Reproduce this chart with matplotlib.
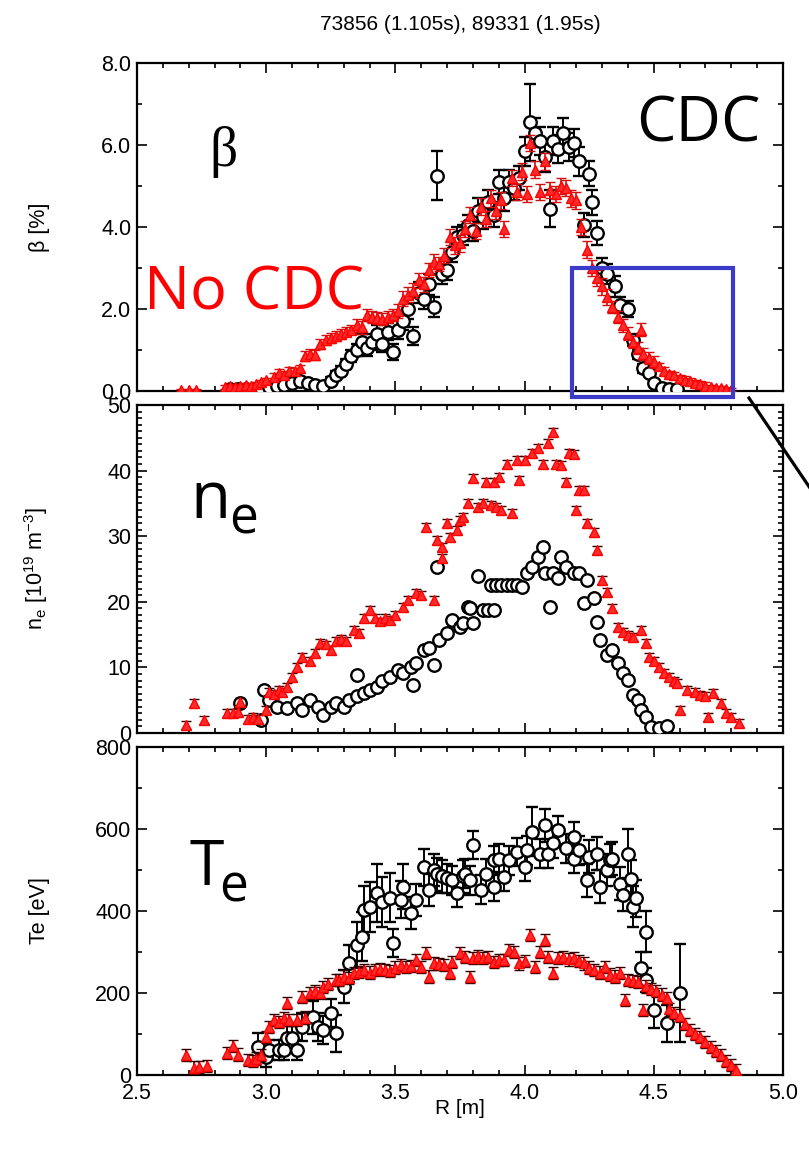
import matplotlib
matplotlib.use("Agg")
import matplotlib.pyplot as plt
from matplotlib.lines import Line2D
from matplotlib.patches import Rectangle
from matplotlib.ticker import MultipleLocator, FormatStrFormatter

plt.rcParams['font.family'] = ['Liberation Sans', 'DejaVu Sans']
plt.rcParams['mathtext.fontset'] = 'custom'
plt.rcParams['mathtext.rm'] = 'Liberation Sans'
plt.rcParams['mathtext.it'] = 'Liberation Sans:italic'

# ---- beta [%] ----
# CDC shot (black circles)
r_beta_cdc = [2.86, 2.89, 2.92, 2.95, 2.98, 3.01, 3.04, 3.07, 3.10, 3.13,
              3.16, 3.19, 3.22, 3.25, 3.27, 3.29, 3.31, 3.33, 3.35, 3.37,
              3.39, 3.41, 3.43, 3.45, 3.47, 3.49, 3.51, 3.53, 3.55, 3.57,
              3.59, 3.61, 3.63, 3.65, 3.66, 3.68, 3.70, 3.72, 3.74, 3.76,
              3.78, 3.80, 3.82, 3.84, 3.86, 3.88, 3.90, 3.92, 3.94, 3.96,
              3.98, 4.00, 4.02, 4.04, 4.06, 4.08, 4.10, 4.11, 4.13, 4.15,
              4.17, 4.19, 4.21, 4.23, 4.25, 4.26, 4.28, 4.30, 4.32, 4.35,
              4.37, 4.40, 4.42, 4.44, 4.46, 4.48, 4.50, 4.53, 4.56, 4.59]
beta_cdc = [0.05, 0.05, 0.05, 0.05, 0.08, 0.10, 0.12, 0.15, 0.20, 0.25,
            0.20, 0.15, 0.12, 0.25, 0.40, 0.50, 0.65, 0.85, 1.00, 1.20,
            1.05, 1.20, 1.40, 1.15, 1.45, 0.95, 1.50, 1.70, 2.00, 1.35,
            2.40, 2.25, 2.60, 2.05, 5.25, 2.85, 2.95, 3.40, 3.75, 3.80,
            4.05, 3.90, 4.40, 4.25, 4.60, 4.30, 5.10, 4.70, 5.10, 4.95,
            5.20, 5.85, 6.55, 6.30, 6.10, 5.70, 4.45, 6.10, 5.90, 6.30,
            5.95, 6.05, 5.60, 4.05, 5.30, 4.60, 3.85, 3.00, 2.85, 2.55,
            2.10, 2.00, 1.25, 0.90, 0.55, 0.45, 0.20, 0.08, 0.05, 0.05]
beta_cdc_err = [0.05, 0.05, 0.05, 0.05, 0.05, 0.05, 0.05, 0.08, 0.08, 0.08,
                0.08, 0.08, 0.08, 0.10, 0.10, 0.12, 0.12, 0.15, 0.15, 0.20,
                0.20, 0.20, 0.20, 0.20, 0.20, 0.20, 0.22, 0.22, 0.25, 0.22,
                0.25, 0.25, 0.25, 0.25, 0.60, 0.25, 0.25, 0.25, 0.25, 0.25,
                0.25, 0.25, 0.30, 0.30, 0.30, 0.30, 0.30, 0.30, 0.30, 0.30,
                0.30, 0.35, 0.95, 0.35, 0.35, 0.35, 0.45, 0.35, 0.35, 0.35,
                0.35, 0.35, 0.35, 0.30, 0.30, 0.30, 0.30, 0.25, 0.25, 0.25,
                0.20, 0.20, 0.15, 0.12, 0.10, 0.08, 0.05, 0.05, 0.05, 0.05]

# No CDC shot (red triangles)
r_beta_nocdc = [2.67, 2.70, 2.73, 2.84, 2.86, 2.88, 2.90, 2.92, 2.94, 2.96,
                2.98, 3.00, 3.03, 3.05, 3.07, 3.09, 3.11, 3.13, 3.15, 3.17,
                3.19, 3.21, 3.23, 3.25, 3.27, 3.29, 3.31, 3.33, 3.35, 3.37,
                3.39, 3.41, 3.43, 3.45, 3.47, 3.49, 3.51, 3.53, 3.55, 3.57,
                3.59, 3.61, 3.63, 3.65, 3.67, 3.69, 3.71, 3.73, 3.75, 3.77,
                3.79, 3.81, 3.83, 3.85, 3.87, 3.89, 3.91, 3.92, 3.95, 3.97,
                3.99, 4.01, 4.02, 4.04, 4.06, 4.08, 4.10, 4.12, 4.14, 4.16,
                4.18, 4.20, 4.22, 4.24, 4.26, 4.28, 4.30, 4.32, 4.34, 4.36,
                4.38, 4.40, 4.42, 4.44, 4.45, 4.46, 4.48, 4.50, 4.52, 4.54,
                4.56, 4.58, 4.60, 4.62, 4.64, 4.66, 4.68, 4.70, 4.72, 4.74,
                4.76, 4.78, 4.80]
beta_nocdc = [0.02, 0.02, 0.02, 0.10, 0.12, 0.10, 0.12, 0.15, 0.12, 0.18,
              0.22, 0.27, 0.35, 0.45, 0.40, 0.50, 0.48, 0.55, 0.85, 0.90,
              0.88, 1.15, 1.25, 1.30, 1.35, 1.40, 1.45, 1.50, 1.60, 1.55,
              1.85, 1.80, 1.78, 1.75, 1.80, 1.85, 1.95, 2.25, 2.35, 2.45,
              2.70, 2.60, 2.95, 3.15, 3.10, 3.30, 3.75, 3.55, 3.60, 3.95,
              4.30, 3.90, 4.50, 4.20, 4.70, 4.40, 4.65, 3.95, 5.20, 4.85,
              5.35, 4.80, 6.05, 5.40, 4.85, 5.60, 4.90, 4.80, 5.00, 4.95,
              4.70, 4.65, 4.00, 3.45, 3.00, 2.75, 2.55, 2.30, 2.05, 1.80,
              1.60, 1.40, 1.20, 1.05, 1.50, 0.90, 0.80, 0.70, 0.60, 0.50,
              0.42, 0.38, 0.32, 0.28, 0.24, 0.20, 0.16, 0.13, 0.10, 0.08,
              0.07, 0.05, 0.03]
beta_nocdc_err = [0.03, 0.03, 0.03, 0.05, 0.05, 0.05, 0.05, 0.05, 0.05, 0.05,
                  0.05, 0.05, 0.08, 0.08, 0.08, 0.08, 0.08, 0.08, 0.12, 0.12,
                  0.12, 0.12, 0.12, 0.12, 0.12, 0.12, 0.12, 0.12, 0.15, 0.15,
                  0.15, 0.15, 0.15, 0.15, 0.15, 0.15, 0.18, 0.18, 0.18, 0.18,
                  0.18, 0.18, 0.18, 0.18, 0.18, 0.18, 0.20, 0.20, 0.20, 0.20,
                  0.20, 0.20, 0.20, 0.20, 0.20, 0.20, 0.20, 0.20, 0.20, 0.20,
                  0.20, 0.20, 0.20, 0.20, 0.20, 0.20, 0.20, 0.20, 0.20, 0.20,
                  0.20, 0.20, 0.20, 0.20, 0.20, 0.20, 0.20, 0.20, 0.15, 0.15,
                  0.15, 0.15, 0.15, 0.15, 0.15, 0.15, 0.15, 0.15, 0.08, 0.08,
                  0.08, 0.08, 0.08, 0.08, 0.08, 0.08, 0.08, 0.08, 0.04, 0.04,
                  0.04, 0.04, 0.04]

# ---- n_e [1e19 m^-3] ----
r_ne_cdc = [2.90, 2.98, 2.99, 3.01, 3.04, 3.08, 3.12, 3.14, 3.17, 3.20,
            3.22, 3.25, 3.27, 3.30, 3.32, 3.35, 3.35, 3.38, 3.40, 3.43,
            3.45, 3.48, 3.51, 3.53, 3.56, 3.57, 3.58, 3.61, 3.63, 3.65,
            3.66, 3.67, 3.70, 3.72, 3.75, 3.76, 3.78, 3.79, 3.80, 3.82,
            3.84, 3.86, 3.87, 3.88, 3.89, 3.91, 3.93, 3.95, 3.97, 3.99,
            4.01, 4.03, 4.05, 4.07, 4.08, 4.10, 4.11, 4.13, 4.14, 4.16,
            4.19, 4.21, 4.23, 4.24, 4.27, 4.28, 4.29, 4.32, 4.34, 4.36,
            4.38, 4.40, 4.42, 4.44, 4.45, 4.47, 4.49, 4.52, 4.55]
ne_cdc = [4.6, 2.0, 6.6, 5.0, 4.0, 3.8, 4.6, 3.5, 5.0, 4.0,
          2.7, 4.0, 4.6, 4.0, 5.0, 8.8, 5.6, 6.1, 6.6, 7.0,
          8.0, 8.5, 9.6, 9.1, 10.0, 7.3, 10.7, 12.6, 13.0, 10.4,
          25.3, 14.2, 15.2, 17.2, 16.2, 16.8, 19.2, 19.0, 16.8, 24.0,
          18.8, 18.8, 22.6, 18.8, 22.6, 22.6, 22.6, 22.6, 22.6, 22.3,
          24.4, 25.3, 26.8, 28.4, 24.4, 19.2, 24.4, 23.6, 26.8, 25.3,
          24.4, 24.4, 19.8, 23.3, 20.6, 16.9, 14.2, 11.9, 12.7, 10.7,
          9.1, 8.1, 5.8, 5.0, 3.5, 2.4, 0.9, 0.8, 1.0]

r_ne_nocdc = [2.69, 2.72, 2.76, 2.85, 2.87, 2.89, 2.90, 2.93, 2.95, 2.97,
              3.00, 3.01, 3.03, 3.05, 3.06, 3.08, 3.10, 3.12, 3.14, 3.17,
              3.19, 3.21, 3.23, 3.25, 3.27, 3.29, 3.31, 3.34, 3.36, 3.38,
              3.40, 3.42, 3.44, 3.46, 3.48, 3.50, 3.53, 3.55, 3.58, 3.60,
              3.62, 3.65, 3.66, 3.68, 3.68, 3.70, 3.71, 3.74, 3.75, 3.76,
              3.78, 3.80, 3.82, 3.84, 3.85, 3.87, 3.88, 3.89, 3.90, 3.91,
              3.93, 3.95, 3.97, 3.98, 4.00, 4.03, 4.05, 4.07, 4.09, 4.11,
              4.12, 4.14, 4.16, 4.17, 4.19, 4.20, 4.21, 4.23, 4.24, 4.27,
              4.28, 4.30, 4.32, 4.34, 4.36, 4.38, 4.40, 4.42, 4.45, 4.47,
              4.48, 4.50, 4.52, 4.54, 4.56, 4.58, 4.59, 4.60, 4.63, 4.66,
              4.68, 4.70, 4.71, 4.73, 4.76, 4.78, 4.80, 4.83]
ne_nocdc = [1.2, 4.6, 2.0, 3.0, 3.0, 3.2, 4.7, 2.2, 2.5, 2.2,
            3.5, 6.3, 6.0, 6.5, 6.3, 7.0, 8.5, 10.0, 11.6, 11.0,
            12.2, 13.7, 13.5, 12.6, 14.0, 14.3, 14.0, 15.7, 15.2, 17.5,
            18.7, 17.5, 17.0, 17.5, 17.2, 18.0, 19.2, 20.3, 21.3, 21.0,
            31.4, 20.3, 29.4, 28.4, 26.7, 32.0, 29.9, 31.0, 32.5, 33.0,
            35.0, 38.9, 34.5, 35.0, 38.3, 34.8, 38.3, 34.5, 39.0, 34.0,
            41.0, 33.5, 41.6, 38.6, 41.6, 42.7, 43.4, 41.0, 44.2, 45.9,
            41.0, 40.8, 38.3, 42.7, 42.5, 34.0, 37.0, 37.0, 32.0, 30.7,
            27.9, 23.3, 21.5, 19.0, 16.2, 15.4, 15.0, 14.6, 15.7, 13.7,
            11.6, 11.0, 10.1, 9.1, 8.5, 8.0, 7.6, 3.5, 6.6, 6.2,
            5.8, 5.6, 2.4, 6.1, 4.6, 3.0, 2.4, 1.5]
ne_nocdc_err = 0.6

# ---- Te [eV] ----
r_te_cdc = [2.97, 3.00, 3.01, 3.05, 3.07, 3.08, 3.10, 3.12, 3.14, 3.18,
            3.20, 3.22, 3.25, 3.27, 3.30, 3.32, 3.35, 3.37, 3.38, 3.40,
            3.43, 3.45, 3.48, 3.49, 3.52, 3.53, 3.56, 3.58, 3.61, 3.63,
            3.65, 3.66, 3.68, 3.70, 3.72, 3.74, 3.76, 3.77, 3.79, 3.80,
            3.83, 3.85, 3.88, 3.88, 3.90, 3.92, 3.94, 3.97, 4.00, 4.01,
            4.03, 4.06, 4.08, 4.09, 4.11, 4.13, 4.16, 4.19, 4.19, 4.21,
            4.24, 4.25, 4.28, 4.29, 4.32, 4.33, 4.34, 4.37, 4.38, 4.40,
            4.41, 4.42, 4.43, 4.45, 4.47, 4.47, 4.50, 4.55, 4.60]
te_cdc = [68, 44, 61, 61, 61, 90, 90, 61, 117, 141,
          117, 110, 151, 102, 215, 273, 317, 337, 402, 410,
          444, 422, 432, 322, 427, 459, 395, 427, 507, 451,
          500, 490, 485, 480, 475, 444, 485, 491, 475, 561,
          452, 491, 524, 459, 528, 483, 524, 544, 508, 548,
          593, 540, 609, 540, 565, 597, 553, 581, 528, 548,
          475, 532, 540, 459, 500, 524, 528, 467, 439, 540,
          479, 410, 431, 260, 349, 232, 159, 126, 200]
te_cdc_err = [35, 25, 25, 25, 25, 30, 30, 25, 35, 40,
              35, 35, 35, 45, 40, 45, 55, 60, 60, 60,
              70, 60, 60, 35, 45, 55, 40, 40, 45, 40,
              40, 40, 40, 35, 35, 35, 40, 35, 35, 35,
              35, 35, 35, 35, 35, 35, 35, 35, 35, 35,
              60, 35, 40, 35, 35, 35, 35, 35, 35, 35,
              40, 40, 40, 40, 40, 40, 40, 40, 40, 60,
              45, 50, 45, 40, 50, 30, 45, 45, 120]

r_te_nocdc = [2.69, 2.72, 2.74, 2.77, 2.85, 2.87, 2.89, 2.93, 2.95, 2.96,
              2.98, 3.00, 3.01, 3.03, 3.05, 3.07, 3.08, 3.09, 3.12, 3.14,
              3.15, 3.17, 3.19, 3.21, 3.22, 3.24, 3.27, 3.28, 3.30, 3.32,
              3.34, 3.36, 3.38, 3.40, 3.42, 3.44, 3.46, 3.48, 3.50, 3.52,
              3.54, 3.56, 3.58, 3.60, 3.62, 3.63, 3.65, 3.67, 3.69, 3.71,
              3.72, 3.75, 3.77, 3.79, 3.80, 3.82, 3.84, 3.86, 3.88, 3.90,
              3.92, 3.94, 3.96, 3.98, 4.00, 4.02, 4.04, 4.06, 4.08, 4.09,
              4.11, 4.13, 4.15, 4.17, 4.19, 4.21, 4.23, 4.25, 4.27, 4.29,
              4.31, 4.33, 4.35, 4.37, 4.39, 4.40, 4.42, 4.44, 4.46, 4.47,
              4.49, 4.51, 4.53, 4.55, 4.56, 4.58, 4.60, 4.62, 4.64, 4.66,
              4.68, 4.70, 4.72, 4.74, 4.76, 4.78, 4.80, 4.82]
te_nocdc = [49, 18, 20, 22, 53, 70, 50, 37, 35, 40,
            49, 93, 117, 134, 130, 138, 175, 134, 134, 190,
            140, 200, 205, 200, 215, 222, 232, 232, 240, 236,
            249, 252, 256, 250, 256, 258, 256, 254, 262, 268,
            264, 266, 280, 264, 297, 240, 272, 270, 268, 249,
            275, 297, 288, 239, 285, 290, 285, 288, 276, 280,
            280, 305, 300, 272, 278, 342, 264, 300, 329, 288,
            248, 285, 288, 282, 286, 278, 272, 262, 256, 250,
            264, 245, 240, 248, 183, 232, 230, 226, 159, 216,
            210, 205, 196, 188, 160, 152, 145, 125, 110, 100,
            92, 80, 68, 58, 48, 35, 25, 12]
te_nocdc_err = 15

W, H = 809, 1149


def fx(x):
    return x / W


def fy(y):
    return 1 - y / H


fig = plt.figure(figsize=(W / 100, H / 100), dpi=100)


def make_panel(top, bottom):
    ax = fig.add_axes([fx(137), fy(bottom), fx(783) - fx(137), fy(top) - fy(bottom)])
    ax.set_xlim(2.5, 5.0)
    ax.xaxis.set_major_locator(MultipleLocator(0.5))
    ax.xaxis.set_minor_locator(MultipleLocator(0.1))
    ax.tick_params(which='both', direction='in', top=True, right=True, width=1.2, labelsize=15.5)
    ax.tick_params(which='major', length=7)
    ax.tick_params(which='minor', length=3.5)
    ax.tick_params(axis='y', pad=4)
    ax.tick_params(axis='x', pad=6)
    for s in ax.spines.values():
        s.set_linewidth(1.6)
    return ax


def plot_cdc(ax, r, v, err=None):
    ax.errorbar(r, v, yerr=err, fmt='o', ms=9, mfc='white', mec='black', mew=1.7,
                ecolor='black', elinewidth=1.4, capsize=4, capthick=1.4, zorder=3)


def plot_nocdc(ax, r, v, err, ecolor):
    ax.errorbar(r, v, yerr=err, fmt='^', ms=7, mfc='#ff2a2a', mec='red', mew=1.0,
                ecolor=ecolor, elinewidth=1.2, capsize=3.5, capthick=1.2, zorder=4)


ax1 = make_panel(63, 391)
ax2 = make_panel(405, 733)
ax3 = make_panel(747, 1075)

# beta
plot_cdc(ax1, r_beta_cdc, beta_cdc, beta_cdc_err)
plot_nocdc(ax1, r_beta_nocdc, beta_nocdc, beta_nocdc_err, '#d01010')
ax1.set_ylim(0, 8)
ax1.yaxis.set_major_locator(MultipleLocator(2))
ax1.yaxis.set_minor_locator(MultipleLocator(1))
ax1.yaxis.set_major_formatter(FormatStrFormatter('%.1f'))
ax1.set_ylabel('β [%]', fontsize=15.5)
ax1.tick_params(labelbottom=False)

# density
plot_cdc(ax2, r_ne_cdc, ne_cdc)
plot_nocdc(ax2, r_ne_nocdc, ne_nocdc, ne_nocdc_err, '#200000')
ax2.set_ylim(0, 50)
ax2.yaxis.set_major_locator(MultipleLocator(10))
ax2.yaxis.set_minor_locator(MultipleLocator(1))
ax2.yaxis.set_major_formatter(FormatStrFormatter('%d'))
ax2.set_ylabel(r'n$_\mathrm{e}$ [10$^{19}$ m$^{-3}$]', fontsize=15.5)
ax2.tick_params(labelbottom=False)

# temperature
plot_cdc(ax3, r_te_cdc, te_cdc, te_cdc_err)
plot_nocdc(ax3, r_te_nocdc, te_nocdc, te_nocdc_err, '#300000')
ax3.set_ylim(0, 800)
ax3.yaxis.set_major_locator(MultipleLocator(200))
ax3.yaxis.set_minor_locator(MultipleLocator(100))
ax3.yaxis.set_major_formatter(FormatStrFormatter('%d'))
ax3.xaxis.set_major_formatter(FormatStrFormatter('%.1f'))
ax3.set_ylabel('Te [eV]', fontsize=15.5)
ax3.set_xlabel('R [m]', fontsize=15)
ax3.xaxis.set_label_coords(0.5, -0.072)

for ax in (ax1, ax2, ax3):
    ax.yaxis.set_label_coords(-0.135, 0.5)

# zoom box on the edge region and pointer line
ax1.add_patch(Rectangle((4.183, -0.15), 0.623, 3.15, fill=False, ec='#3b3bc9',
                        lw=3, clip_on=False, zorder=10))
fig.add_artist(Line2D([fx(749), fx(812)], [fy(398), fy(491)], color='black', lw=2.3))

# labels
fig.text(fx(460), fy(25), '73856 (1.105s), 89331 (1.95s)', ha='center', va='center', fontsize=15)
big = ['Open Sans', 'DejaVu Sans']
fig.text(fx(209), fy(166), 'β', family=['Liberation Serif', 'DejaVu Serif'], fontsize=40,
         ha='left', va='baseline')
fig.text(fx(636), fy(142), 'CDC', family=big, fontsize=45, ha='left', va='baseline')
fig.text(fx(144), fy(310), 'No CDC', family=big, fontsize=44, color='red', ha='left', va='baseline')
fig.text(fx(190), fy(518), 'n', family=big, fontsize=47, ha='left', va='baseline')
fig.text(fx(229), fy(533), 'e', family=big, fontsize=37, ha='left', va='baseline')
fig.text(fx(189), fy(885), 'T', family=big, fontsize=45, ha='left', va='baseline')
fig.text(fx(219), fy(902), 'e', family=big, fontsize=37, ha='left', va='baseline')

fig.savefig('out.png', dpi=100)
